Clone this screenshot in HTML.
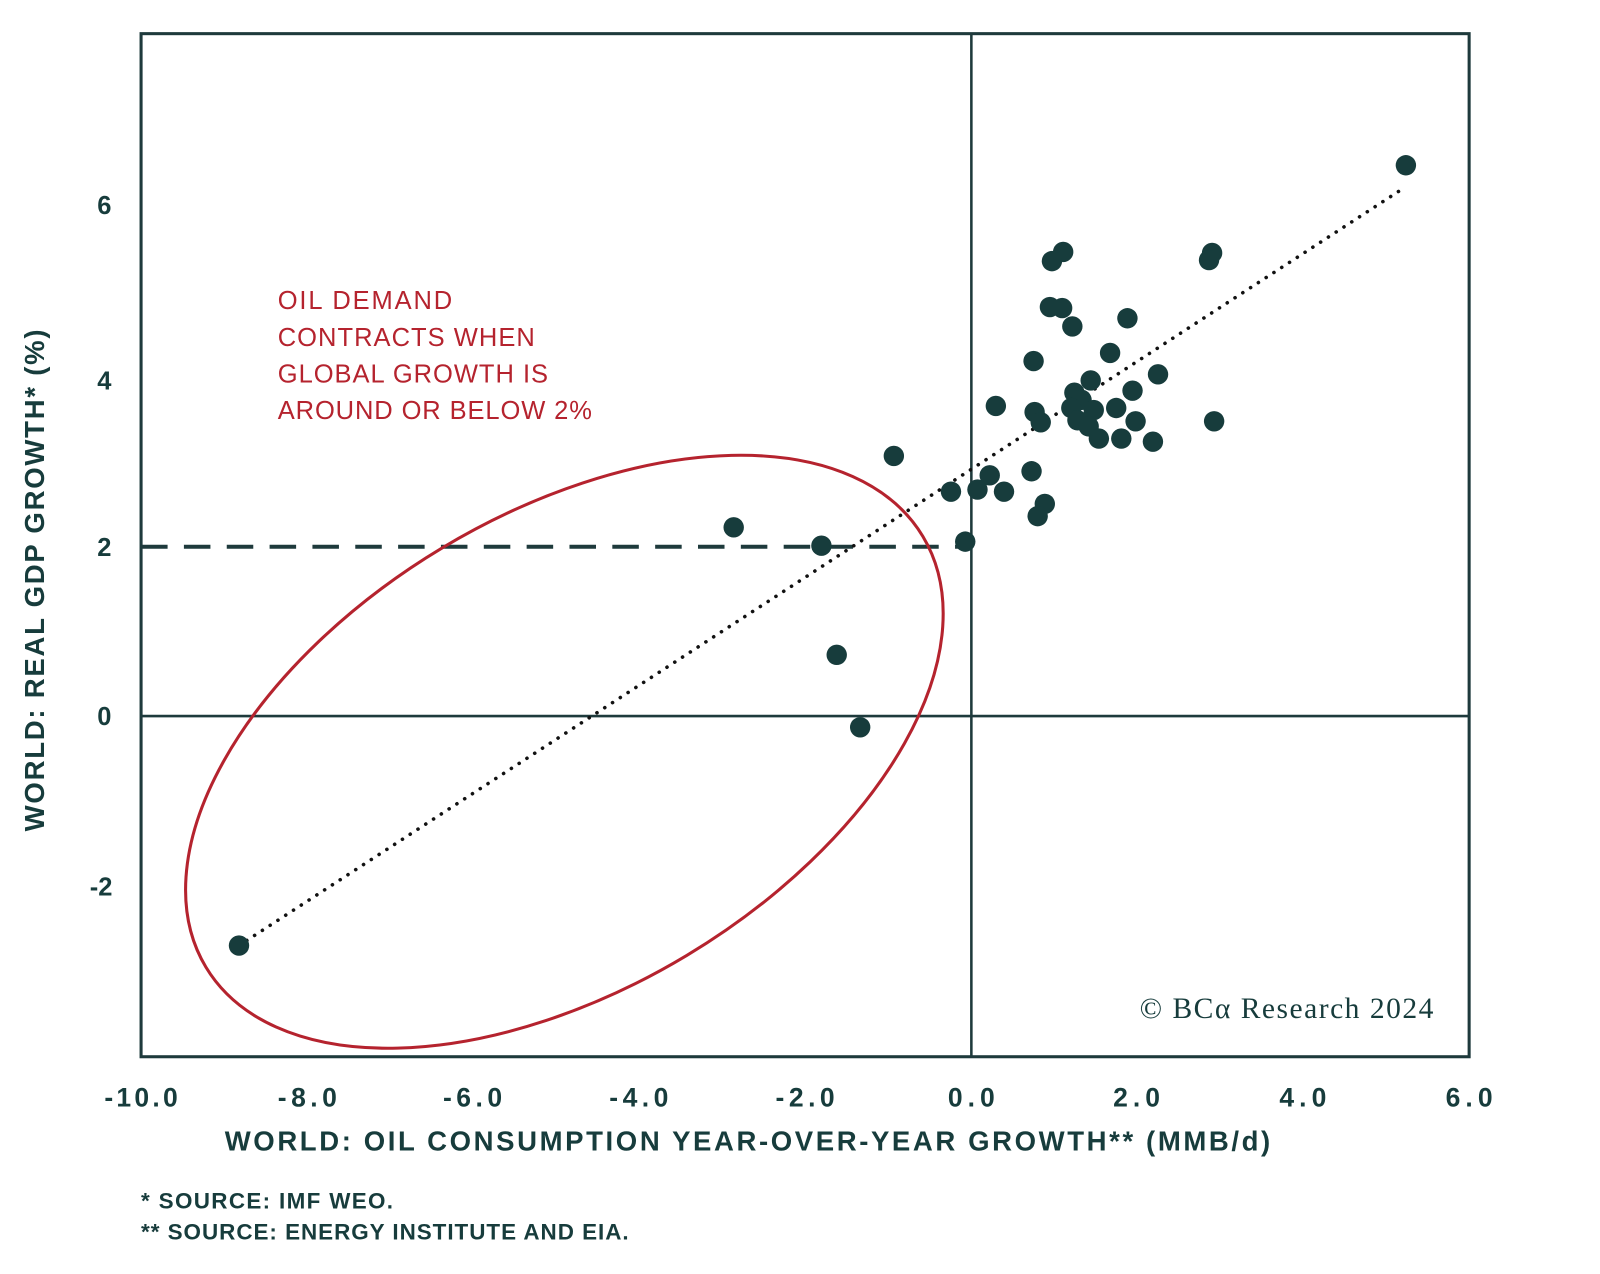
<!DOCTYPE html>
<html><head><meta charset="utf-8"><style>
html,body{margin:0;padding:0;background:#fff;width:1600px;height:1274px;overflow:hidden}
svg{display:block}
</style></head><body>
<svg width="1600" height="1274" viewBox="0 0 1568 1249" xmlns="http://www.w3.org/2000/svg" font-family="Liberation Sans, sans-serif">
<rect x="138" y="33" width="1302" height="1003" fill="none" stroke="#1e3a3c" stroke-width="3"/>
<line x1="952" y1="33" x2="952" y2="1036" stroke="#1e3a3c" stroke-width="2.5"/>
<line x1="138" y1="702" x2="1440" y2="702" stroke="#1e3a3c" stroke-width="2.5"/>
<line x1="138" y1="536" x2="952" y2="536" stroke="#1e3a3c" stroke-width="4" stroke-dasharray="26,16"/>
<ellipse cx="553" cy="737" rx="410" ry="233" transform="rotate(-31 553 737)" fill="none" stroke="#b5232e" stroke-width="3"/>
<line x1="234" y1="927" x2="1378" y2="183" stroke="#111" stroke-width="3.5" stroke-dasharray="0.1,9" stroke-linecap="round"/>
<g fill="#173c3c">
<circle cx="1378" cy="162" r="10"/><circle cx="1188" cy="248" r="10"/><circle cx="1185" cy="255" r="10"/><circle cx="1042" cy="247" r="10"/><circle cx="1031" cy="256" r="10"/><circle cx="1029" cy="301" r="10"/><circle cx="1041" cy="302" r="10"/><circle cx="1051" cy="320" r="10"/><circle cx="1105" cy="312" r="10"/><circle cx="1013" cy="354" r="10"/><circle cx="1088" cy="346" r="10"/><circle cx="1135" cy="367" r="10"/><circle cx="1069" cy="373" r="10"/><circle cx="1053" cy="385" r="10"/><circle cx="1110" cy="383" r="10"/><circle cx="1060" cy="392" r="10"/><circle cx="976" cy="398" r="10"/><circle cx="1014" cy="404" r="10"/><circle cx="1020" cy="414" r="10"/><circle cx="1050" cy="400" r="10"/><circle cx="1072" cy="402" r="10"/><circle cx="1094" cy="400" r="10"/><circle cx="1056" cy="412" r="10"/><circle cx="1067" cy="418" r="10"/><circle cx="1077" cy="430" r="10"/><circle cx="1099" cy="430" r="10"/><circle cx="1113" cy="413" r="10"/><circle cx="1130" cy="433" r="10"/><circle cx="1190" cy="413" r="10"/><circle cx="876" cy="447" r="10"/><circle cx="1011" cy="462" r="10"/><circle cx="970" cy="466" r="10"/><circle cx="932" cy="482" r="10"/><circle cx="958" cy="480" r="10"/><circle cx="984" cy="482" r="10"/><circle cx="1024" cy="494" r="10"/><circle cx="1017" cy="506" r="10"/><circle cx="946" cy="531" r="10"/><circle cx="719" cy="517" r="10"/><circle cx="805" cy="535" r="10"/><circle cx="820" cy="642" r="10"/><circle cx="843" cy="713" r="10"/><circle cx="234" cy="927" r="10"/>
</g>
<g fill="#b5232e" font-size="25">
<text x="272" y="303" textLength="171">OIL DEMAND</text>
<text x="272" y="339" textLength="252">CONTRACTS WHEN</text>
<text x="272" y="375" textLength="265">GLOBAL GROWTH IS</text>
<text x="272" y="411" textLength="308">AROUND OR BELOW 2%</text>
</g>
<g fill="#173c3c" font-size="25" font-weight="bold">
<text x="109" y="210" text-anchor="end">6</text>
<text x="109" y="382" text-anchor="end">4</text>
<text x="109" y="545" text-anchor="end">2</text>
<text x="109" y="711" text-anchor="end">0</text>
<text x="110" y="878" text-anchor="end">-2</text>
<g text-anchor="middle" font-size="26">
<text x="138" y="1085" textLength="72">-10.0</text><text x="301" y="1085" textLength="58">-8.0</text><text x="463" y="1085" textLength="58">-6.0</text><text x="626" y="1085" textLength="58">-4.0</text><text x="789" y="1085" textLength="58">-2.0</text><text x="952" y="1085" textLength="46">0.0</text><text x="1114" y="1085" textLength="46">2.0</text><text x="1277" y="1085" textLength="46">4.0</text><text x="1440" y="1085" textLength="46">6.0</text>
</g>
<text x="220" y="1128" font-size="27" textLength="1025">WORLD: OIL CONSUMPTION YEAR-OVER-YEAR GROWTH** (MMB/d)</text>
<text transform="translate(43 815) rotate(-90)" font-size="27" textLength="492">WORLD: REAL GDP GROWTH* (%)</text>
</g>
<g fill="#173c3c" font-size="22" font-weight="bold">
<text x="138" y="1185" textLength="247">*  SOURCE: IMF WEO.</text>
<text x="138" y="1215" textLength="478">** SOURCE: ENERGY INSTITUTE AND EIA.</text>
</g>
<text x="1117" y="998" fill="#173c3c" font-family="Liberation Serif, serif" font-size="29" textLength="288">© BCα Research 2024</text>
</svg>
</body></html>
